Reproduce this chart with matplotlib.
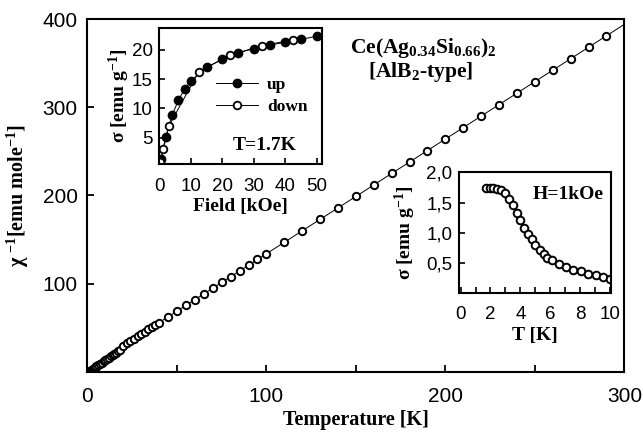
import numpy as np
import matplotlib
matplotlib.use("Agg")
import matplotlib.pyplot as plt

# main curve: inverse susceptibility vs temperature
temp = [1.7, 2.0, 2.5, 3, 3.5, 4, 4.5, 5, 6, 7, 8, 9, 10, 11, 12, 13, 14, 15, 16, 17, 18,
        20, 22, 24, 26, 28, 30, 32, 34, 36, 38, 40,
        45, 50, 55, 60, 65, 70, 75, 80, 85, 90, 95, 100,
        110, 120, 130, 140, 150, 160, 170, 180, 190, 200,
        210, 220, 230, 240, 250, 260, 270, 280, 290]
chi_inv = [1.0, 1.5, 2.3, 3.1, 3.9, 4.7, 5.4, 6.2, 7.7, 9.2, 10.6, 12.0, 13.5, 14.9, 16.3, 17.7, 19.1, 20.5, 21.9, 23.3, 24.8,
           29.6, 32.3, 35.0, 37.6, 40.3, 42.9, 45.6, 48.2, 50.8, 53.4, 56.0,
           62.5, 69.0, 75.5, 82.0, 88.5, 95.0, 101.5, 108.0, 114.5, 121.0, 127.5, 134.0,
           147, 160, 173, 186, 199, 212, 225, 238, 251, 264,
           277, 290, 303, 316, 329, 342, 355, 368, 381]

# inset 1: magnetization isotherm at 1.7 K
field_up = [0.5, 2, 4, 6, 8, 10, 15, 20, 25, 30, 35, 40, 45, 50]
sigma_up = [1.3, 5.2, 8.8, 11.4, 13.3, 14.7, 17.0, 18.4, 19.5, 20.2, 20.8, 21.3, 21.8, 22.3]
field_down = [0.2, 1.2, 3.0, 12.5, 22.5, 32.5, 42.5]
sigma_down = [0.9, 3.0, 7.0, 16.3, 19.1, 20.7, 21.7]

# inset 2: sigma(T) at 1 kOe
t_low = [1.7, 1.95, 2.2, 2.45, 2.7, 3.0, 3.25, 3.5, 3.75, 4.0, 4.25, 4.5, 4.75,
         5.0, 5.3, 5.55, 5.8, 6.1, 6.55, 7.05, 7.55, 8.05, 8.55, 9.05, 9.55, 10.0]
sigma_t = [1.74, 1.74, 1.74, 1.73, 1.71, 1.65, 1.56, 1.46, 1.33, 1.21, 1.08, 0.98, 0.89,
           0.80, 0.72, 0.65, 0.59, 0.545, 0.48, 0.43, 0.39, 0.36, 0.32, 0.30, 0.27, 0.24]

plt.rcParams['font.family'] = ['Liberation Sans', 'DejaVu Sans']
plt.rcParams['mathtext.fontset'] = 'custom'
plt.rcParams['mathtext.rm'] = 'Liberation Serif:bold'
plt.rcParams['mathtext.it'] = 'Liberation Serif:bold'
plt.rcParams['mathtext.bf'] = 'Liberation Serif:bold'

serif = dict(family=['Liberation Serif', 'DejaVu Serif'], fontweight='bold')

fig = plt.figure(figsize=(6.43, 4.33), dpi=100)
ax = fig.add_axes([0.136, 0.141, 0.835, 0.815])

fit = np.polyfit(temp[21:], chi_inv[21:], 1)
tt = np.array([0, 300])
ax.plot(tt, np.polyval(fit, tt), color='black', lw=0.7)
ax.plot(temp, chi_inv, 'o', mfc='white', mec='black', ms=5.3, mew=1.4)

ax.set_xlim(0, 300)
ax.set_ylim(0, 400)
ax.set_xticks([0, 50, 100, 150, 200, 250, 300])
ax.set_xticklabels(['0', '', '100', '', '200', '', '300'])
ax.set_yticks([100, 200, 300, 400])
ax.tick_params(direction='in', length=5, width=1.3, labelsize=15)
ax.tick_params(axis='x', pad=11)
ax.tick_params(axis='y', pad=7)
for s in ax.spines.values():
    s.set_linewidth(1.5)
ax.set_xlabel('Temperature [K]', fontsize=14.5, labelpad=3, **serif)
ax.set_ylabel('χ $^{-1}$[emu mole$^{-1}$]', fontsize=14.5, labelpad=8, **serif)

ax.text(0.625, 0.904, 'Ce(Ag$_{0.34}$Si$_{0.66}$)$_2$', transform=ax.transAxes,
        ha='center', va='baseline', fontsize=15.5, **serif)
ax.text(0.62, 0.837, '[AlB$_2$-type]', transform=ax.transAxes,
        ha='center', va='baseline', fontsize=15.5, **serif)

# inset 1
ax1 = fig.add_axes([0.248, 0.621, 0.252, 0.314])
ax1.plot(field_up, sigma_up, '-o', color='black', mfc='black', mec='black',
         ms=6, lw=0.7, label='up')
ax1.plot(field_down, sigma_down, '-o', color='black', mfc='white', mec='black',
         ms=5.5, mew=1.3, lw=0.7, label='down')
ax1.set_xlim(0, 51.5)
ax1.set_ylim(0.5, 23.7)
ax1.set_xticks([0, 10, 20, 30, 40, 50])
ax1.set_yticks([5, 10, 15, 20])
ax1.tick_params(direction='in', length=4, width=1.2, labelsize=13.5)
ax1.tick_params(axis='x', pad=10)
ax1.tick_params(axis='y', pad=5)
for s in ax1.spines.values():
    s.set_linewidth(1.5)
ax1.set_xlabel('Field [kOe]', fontsize=14, labelpad=2, **serif)
ax1.set_ylabel('σ [emu g$^{-1}$]', fontsize=14, labelpad=0, **serif)
ax1.legend(loc='upper left', bbox_to_anchor=(0.255, 0.755), frameon=False,
           numpoints=1, handlelength=2.4, handletextpad=0.5, labelspacing=0.35,
           prop=dict(family='Liberation Serif', weight='bold', size=12.5))
ax1.text(0.65, 0.105, 'T=1.7K', transform=ax1.transAxes, ha='center', va='baseline',
         fontsize=14, **serif)

# inset 2
ax2 = fig.add_axes([0.714, 0.323, 0.236, 0.279])
ax2.plot(t_low, sigma_t, 'o', mfc='white', mec='black', ms=5.5, mew=1.4)
ax2.set_xlim(-0.1, 10.05)
ax2.set_ylim(0, 2.0)
ax2.set_xticks(range(0, 11))
ax2.set_xticklabels(['0', '', '2', '', '4', '', '6', '', '8', '', '10'])
ax2.set_yticks([0.5, 1.0, 1.5, 2.0])
ax2.set_yticklabels(['0,5', '1,0', '1,5', '2,0'])
ax2.tick_params(direction='in', length=4, width=1.2, labelsize=13.5)
ax2.tick_params(axis='x', pad=9)
ax2.tick_params(axis='y', pad=5)
for s in ax2.spines.values():
    s.set_linewidth(1.5)
ax2.set_xlabel('T [K]', fontsize=14, labelpad=3, **serif)
ax2.set_ylabel('σ [emu g$^{-1}$]', fontsize=14, labelpad=6, **serif)
ax2.text(0.717, 0.776, 'H=1kOe', transform=ax2.transAxes, ha='center', va='baseline',
         fontsize=14, **serif)

fig.savefig('out.png', dpi=100)
